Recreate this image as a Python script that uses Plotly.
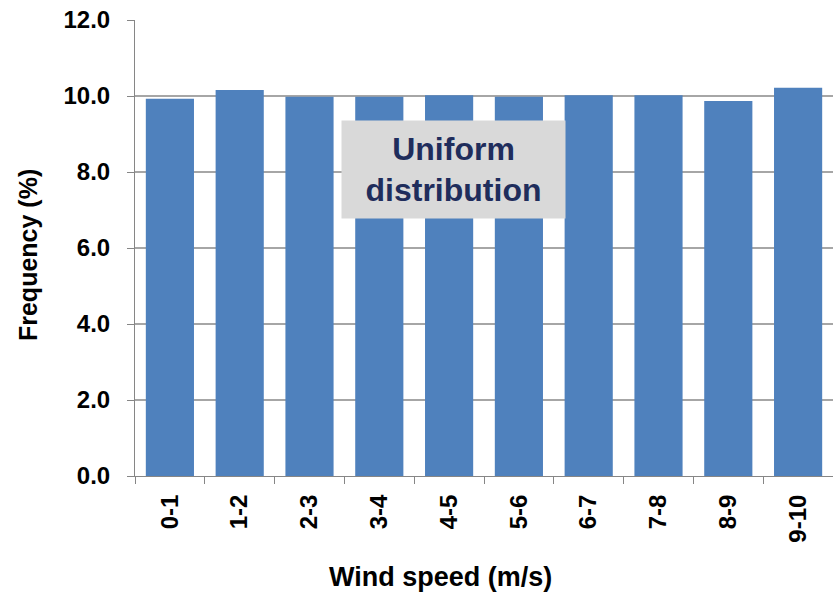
import plotly.graph_objects as go

categories = ["0-1", "1-2", "2-3", "3-4", "4-5", "5-6", "6-7", "7-8", "8-9", "9-10"]
frequency = [9.93, 10.16, 9.98, 9.98, 10.02, 9.98, 10.02, 10.02, 9.87, 10.22]

FONT = "Liberation Sans, Arial, sans-serif"
BOLD = dict(family=FONT, weight="bold", color="black")

fig = go.Figure(go.Bar(x=categories, y=frequency, marker_color="#4f81bd",
                       marker_line_width=0, width=0.69))

# label box in the middle of the plot
fig.add_annotation(x=4.06, y=8.06, xref="x", yref="y",
                   text="Uniform<br>distribution", showarrow=False,
                   font=dict(family=FONT, size=32, weight="bold", color="#1f2d5c"),
                   bgcolor="#d9d9d9", width=215, height=89, borderpad=4)

# axis titles placed by hand
fig.add_annotation(x=-0.153, y=0.485, xref="paper", yref="paper",
                   xanchor="center", yanchor="middle",
                   text="Frequency (%)", textangle=-90, showarrow=False,
                   font=dict(size=25, **BOLD))
fig.add_annotation(x=0.437, y=-0.2215, xref="paper", yref="paper",
                   xanchor="center", yanchor="middle",
                   text="Wind speed (m/s)", showarrow=False,
                   font=dict(size=27, **BOLD))

fig.update_layout(
    width=833, height=592,
    margin=dict(l=135, r=0, t=20, b=116),
    plot_bgcolor="white", paper_bgcolor="white",
    showlegend=False,
    font=dict(family=FONT, color="black"),
)
fig.update_yaxes(range=[0, 12], dtick=2, tickformat=".1f", automargin=False,
                 showgrid=True, gridcolor="#a6a6a6", gridwidth=1.5,
                 showline=True, linecolor="#868686", linewidth=1,
                 ticks="outside", ticklen=7, tickcolor="#868686",
                 ticklabelstandoff=12, ticklabeloverflow="allow",
                 tickfont=dict(size=24, **BOLD))
fig.update_xaxes(automargin=False,
                 showline=True, linecolor="#868686", linewidth=1,
                 ticks="outside", ticklen=7, tickcolor="#868686",
                 tickson="boundaries", tickangle=-90,
                 ticklabelstandoff=8, ticklabeloverflow="allow",
                 tickfont=dict(size=24, **BOLD))

# drop the page's default body margin so the figure fills the window
fig.write_html("out.html", config={"displayModeBar": False},
               post_script="document.body.style.margin = '0';")
